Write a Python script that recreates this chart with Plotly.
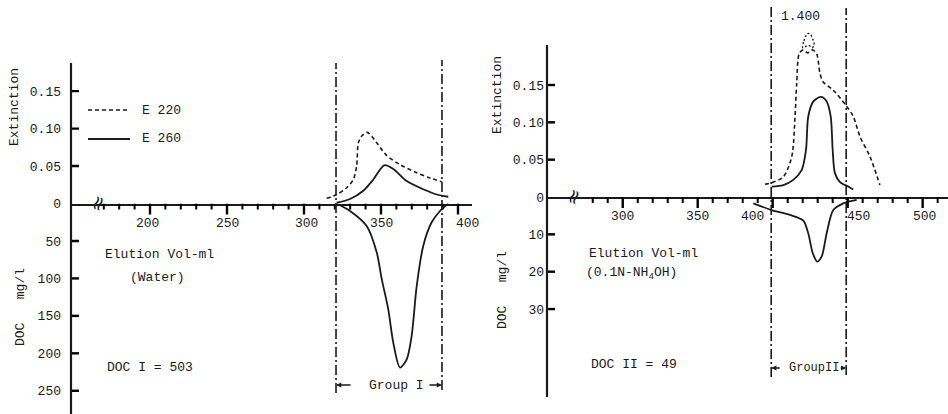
import plotly.graph_objects as go

W, H = 948, 414

# ---------------- Left panel (Water elution) ----------------
e220_w_x = [314.7, 321.2, 327.7, 332.0, 334.2, 335.3, 337.5, 341.1, 347.2, 353.7, 362.3, 373.2, 381.8, 389.4]
e220_w_y = [0.007, 0.012, 0.021, 0.032, 0.050, 0.081, 0.090, 0.095, 0.081, 0.064, 0.052, 0.041, 0.034, 0.029]

e260_w_x = [321.2, 329.9, 338.5, 345.0, 352.1, 358.0, 366.7, 377.5, 386.2, 393.7]
e260_w_y = [0.001, 0.006, 0.017, 0.032, 0.051, 0.046, 0.030, 0.019, 0.012, 0.009]

doc_w_x = [321.2, 329.9, 340.7, 347.2, 350.5, 354.7, 358.0, 362.3, 366.7, 369.9, 373.2, 377.5, 382.9, 388.3, 393.7]
doc_w = [0, 10, 30, 65, 101, 141, 186, 219, 208, 177, 110, 56, 25, 10, 0]   # mg/l

group1_bounds = [320.8, 389.6]

x_ticks_w = [200, 250, 300, 350, 400]
x_minor_w = [v for v in range(170, 401, 10) if v % 50]
ext_ticks_w = [0, 0.05, 0.10, 0.15]
ext_text_w = ["0", "0.05", "0.10", "0.15"]
doc_ticks_w = [50, 100, 150, 200, 250]

# ---------------- Right panel (0.1N-NH4OH elution) ----------------
e220_n_x = [394.9, 399.3, 407.1, 412.7, 414.9, 416.0, 417.7, 420.4, 423.3, 426.4, 429.3, 431.5, 433.7, 440.4, 448.7, 453.7, 458.2, 464.9, 471.5]
e220_n_y = [0.017, 0.019, 0.027, 0.054, 0.108, 0.152, 0.192, 0.197, 0.193, 0.197, 0.192, 0.166, 0.154, 0.143, 0.123, 0.108, 0.081, 0.054, 0.016]

cap_x = [420.0, 420.8, 422.2, 423.8, 425.4, 426.8, 427.6, 426.5, 424.0, 421.3, 420.0]
cap_y = [0.200, 0.209, 0.216, 0.219, 0.217, 0.211, 0.204, 0.200, 0.203, 0.201, 0.200]

e260_n_x = [399.3, 407.1, 413.7, 419.3, 422.2, 423.7, 427.1, 432.0, 436.0, 438.7, 440.0, 441.5, 444.9, 450.4, 453.7]
e260_n_y = [0.014, 0.016, 0.023, 0.036, 0.063, 0.1075, 0.128, 0.134, 0.128, 0.1075, 0.063, 0.032, 0.020, 0.014, 0.010]

doc_n_x = [387.1, 399.3, 411.5, 420.4, 423.7, 426.7, 429.7, 432.7, 436.0, 440.4, 447.1, 456.0]
doc_n = [1.7, 3.5, 4.8, 6.3, 9.7, 15.0, 17.3, 15.9, 9.7, 3.5, 1.7, 0.8]   # mg/l

group2_bounds = [399.0, 449.0]

x_ticks_n = [300, 350, 400, 450, 500]
x_minor_n = [v for v in range(280, 511, 10) if v % 50]
ext_ticks_n = [0, 0.05, 0.10, 0.15]
ext_text_n = ["0", "0.05", "0.10", "0.15"]
doc_ticks_n = [10, 20, 30]

INK = "#1a1a1a"
FONT = "Liberation Mono"

# axis geometry (pixels of the 948x414 page)
X_DOM_W = [71 / W, 472 / W]
X_DOM_N = [547 / W, 1.0]
X_RANGE_W = [148.7, 409.1]
X_RANGE_N = [249.5, 516.9]
zero_w = 1 - 203.5 / H
zero_n = 1 - 197 / H
Y_RANGE_W = [0, 0.2717]
Y3_RANGE_W = [281.0, 0]
Y_RANGE_N = [0, 0.26383]
Y4_RANGE_N = [58.1, 0]


def P(px, py):
    return px / W, 1 - py / H


def px_per_unit(dom, rng, full):
    return (dom[1] - dom[0]) * full / abs(rng[1] - rng[0])


sx_w = px_per_unit(X_DOM_W, X_RANGE_W, W)
sx_n = px_per_unit(X_DOM_N, X_RANGE_N, W)
sy3_w = px_per_unit([0, zero_w], Y3_RANGE_W, H)
sy4_n = px_per_unit([0, zero_n], Y4_RANGE_N, H)

fig = go.Figure()
solid = dict(color=INK, width=1.8, shape="spline", smoothing=0.8)
dashed = dict(color=INK, width=1.6, dash="4px,3px", shape="spline", smoothing=0.8)

fig.add_trace(go.Scatter(x=e220_w_x, y=e220_w_y, mode="lines", line=dashed, xaxis="x", yaxis="y"))
fig.add_trace(go.Scatter(x=e260_w_x, y=e260_w_y, mode="lines", line=solid, xaxis="x", yaxis="y"))
fig.add_trace(go.Scatter(x=doc_w_x, y=doc_w, mode="lines", line=solid, xaxis="x", yaxis="y3"))

fig.add_trace(go.Scatter(x=e220_n_x, y=e220_n_y, mode="lines", line=dashed, xaxis="x2", yaxis="y2"))
fig.add_trace(go.Scatter(x=cap_x, y=cap_y, mode="lines",
                         line=dict(color=INK, width=1.4, dash="2px,2px", shape="spline"),
                         xaxis="x2", yaxis="y2"))
fig.add_trace(go.Scatter(x=e260_n_x, y=e260_n_y, mode="lines", line=solid, xaxis="x2", yaxis="y2"))
fig.add_trace(go.Scatter(x=doc_n_x, y=doc_n, mode="lines", line=solid, xaxis="x2", yaxis="y4"))


# tick marks drawn as short line segments through the axes' own scales
def x_tick_trace(vals, length_px, scale, xa, ya, width):
    xs, ys = [], []
    for v in vals:
        xs += [v, v, None]
        ys += [0, length_px / scale, None]
    return go.Scatter(x=xs, y=ys, mode="lines", line=dict(color="#000000", width=width),
                      xaxis=xa, yaxis=ya, hoverinfo="skip", connectgaps=False)


def y_tick_trace(vals, x_start, length_px, scale, xa, ya):
    xs, ys = [], []
    for v in vals:
        xs += [x_start, x_start + length_px / scale, None]
        ys += [v, v, None]
    return go.Scatter(x=xs, y=ys, mode="lines", line=dict(color="#000000", width=2.4),
                      xaxis=xa, yaxis=ya, hoverinfo="skip", connectgaps=False)


fig.add_trace(x_tick_trace(x_ticks_w, 11, sy3_w, "x", "y3", 2.4))
fig.add_trace(x_tick_trace(x_minor_w, 6, sy3_w, "x", "y3", 2.0))
fig.add_trace(x_tick_trace(x_ticks_n, 11, sy4_n, "x2", "y4", 2.4))
fig.add_trace(x_tick_trace(x_minor_n, 6, sy4_n, "x2", "y4", 2.0))
fig.add_trace(y_tick_trace(ext_ticks_w[1:], X_RANGE_W[0], 8, sx_w, "x", "y"))
fig.add_trace(y_tick_trace(doc_ticks_w, X_RANGE_W[0], 8, sx_w, "x", "y3"))
fig.add_trace(y_tick_trace(ext_ticks_n[1:], X_RANGE_N[0], 8, sx_n, "x2", "y2"))
fig.add_trace(y_tick_trace(doc_ticks_n, X_RANGE_N[0], 8, sx_n, "x2", "y4"))

xa_common = dict(showgrid=False, zeroline=False, showline=True, linecolor=INK, linewidth=2,
                 ticks="", showticklabels=False, automargin=False)
ya_common = dict(showgrid=False, zeroline=False, showline=False, ticks="", tickmode="array",
                 automargin=False, tickfont=dict(family=FONT, size=13, color=INK))

fig.update_layout(
    template="none",
    width=W, height=H, margin=dict(l=0, r=0, t=0, b=0, pad=0), autosize=False,
    paper_bgcolor="white", plot_bgcolor="rgba(0,0,0,0)", showlegend=False,
    font=dict(family=FONT, size=13, color=INK),
    xaxis=dict(domain=X_DOM_W, range=X_RANGE_W, anchor="y", **xa_common),
    yaxis=dict(domain=[zero_w, 1], anchor="x", range=Y_RANGE_W, tickvals=ext_ticks_w,
               ticktext=ext_text_w, ticklabelstandoff=9, **ya_common),
    yaxis3=dict(domain=[0, zero_w], anchor="x", range=Y3_RANGE_W, tickvals=doc_ticks_w,
                ticklabelstandoff=9, **ya_common),
    xaxis2=dict(domain=X_DOM_N, range=X_RANGE_N, anchor="y2", **xa_common),
    yaxis2=dict(domain=[zero_n, 1], anchor="x2", range=Y_RANGE_N, tickvals=ext_ticks_n,
                ticktext=ext_text_n, ticklabelstandoff=2, **ya_common),
    yaxis4=dict(domain=[0, zero_n], anchor="x2", range=Y4_RANGE_N, tickvals=doc_ticks_n,
                ticklabelstandoff=2, **ya_common),
)

shapes = []
# y-axis lines
shapes.append(dict(type="line", xref="x domain", yref="paper", x0=0, x1=0, y0=0, y1=1 - 63 / H,
                   line=dict(color=INK, width=2.2)))
shapes.append(dict(type="line", xref="x2 domain", yref="paper", x0=0, x1=0, y0=1 - 397 / H,
                   y1=1 - 45 / H, line=dict(color=INK, width=2.2)))
# group boundary lines
dd = "10px,3px,2px,3px"
for xr, xv, ytop, ybot in [("x", group1_bounds[0], 63, 393), ("x", group1_bounds[1], 60, 390),
                           ("x2", group2_bounds[0], 7, 377), ("x2", group2_bounds[1], 8, 375)]:
    shapes.append(dict(type="line", xref=xr, yref="paper", x0=xv, x1=xv, y0=1 - ybot / H,
                       y1=1 - ytop / H, line=dict(color=INK, width=1.6, dash=dd)))
# legend samples
x0, y0 = P(88, 110)
x1, _ = P(130, 110)
shapes.append(dict(type="line", xref="paper", yref="paper", x0=x0, x1=x1, y0=y0, y1=y0,
                   line=dict(color=INK, width=1.6, dash="4px,3px")))
x0, y0 = P(88, 139)
shapes.append(dict(type="line", xref="paper", yref="paper", x0=x0, x1=x1, y0=y0, y1=y0,
                   line=dict(color=INK, width=1.8)))
fig.update_layout(shapes=shapes)

ann = []


def txt(text, px, py, xanchor="left", size=13, angle=0):
    x, y = P(px, py)
    ann.append(dict(text=text, x=x, y=y, xref="paper", yref="paper", xanchor=xanchor,
                    yanchor="middle", showarrow=False, textangle=angle,
                    font=dict(family=FONT, size=size, color=INK)))


# x tick labels
for v, dx in zip(x_ticks_w, [-3, 0, 3, 1, 10]):
    ann.append(dict(text=str(v), x=v, y=0, xref="x", yref="y", showarrow=False,
                    yshift=-20, xshift=dx, font=dict(family=FONT, size=13, color=INK)))
for v, dx in zip(x_ticks_n, [0, 0, -20, 11, 2]):
    ann.append(dict(text=str(v), x=v, y=0, xref="x2", yref="y2", showarrow=False,
                    yshift=-19, xshift=dx, font=dict(family=FONT, size=13, color=INK)))

# axis break marks
ann.append(dict(text="≈", x=165.6, y=0, xref="x", yref="y", showarrow=False, textangle=-70,
                font=dict(family="DejaVu Sans", size=20, color=INK)))
ann.append(dict(text="≈", x=266.9, y=0, xref="x2", yref="y2", showarrow=False, textangle=-70,
                font=dict(family="DejaVu Sans", size=20, color=INK)))

# left panel texts
txt("Extinction", 14, 107, xanchor="center", angle=-90)
txt("DOC   mg/l", 20, 307, xanchor="center", angle=-90)
txt("E 220", 140, 110)
txt("E 260", 140, 139)
txt("Elution Vol-ml", 103, 255)
txt("(Water)", 157, 277, xanchor="center")
txt("DOC I = 503", 105, 367)
txt("Group I", 396, 385, xanchor="center")

# right panel texts
txt("Extinction", 497, 95, xanchor="center", angle=-90)
txt("DOC   mg/l", 502, 290, xanchor="center", angle=-90)
txt("Elution Vol-ml", 587, 253)
txt("(0.1N-NH<sub>4</sub>OH)", 584, 273)
txt("DOC II = 49", 589, 364)
txt("1.400", 800, 17, xanchor="center")
txt("GroupII", 814, 368, xanchor="center", size=12)

# group arrows
for xr, xv, py, axp in [("x", group1_bounds[0], 385, 16), ("x", group1_bounds[1], 385, -14),
                        ("x2", group2_bounds[0], 368, 10), ("x2", group2_bounds[1], 368, -7)]:
    ann.append(dict(text="", x=xv, y=1 - py / H, xref=xr, yref="paper", showarrow=True,
                    ax=axp, ay=0, arrowhead=2, arrowsize=0.8, arrowwidth=1.3, arrowcolor=INK))

fig.update_layout(annotations=ann)

fig.write_html("out.html")
